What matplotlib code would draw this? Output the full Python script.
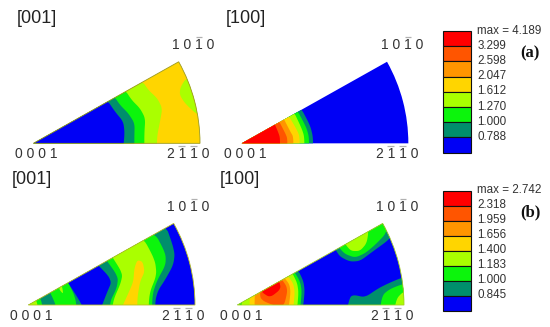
import numpy as np
import matplotlib
matplotlib.use('Agg')
import matplotlib.pyplot as plt
from matplotlib.patches import Polygon, Wedge, Rectangle

plt.rcParams['font.family'] = ['Liberation Sans', 'DejaVu Sans']

# contour level colours, lowest to highest
level_colors = ['#0000f5', '#008f6c', '#0cf50c', '#aaff00', '#ffd500', '#ff9500', '#ff5500', '#ff0000']

labels_a = ['max = 4.189', '3.299', '2.598', '2.047', '1.612', '1.270', '1.000', '0.788']
labels_b = ['max = 2.742', '2.318', '1.959', '1.656', '1.400', '1.183', '1.000', '0.845']

# background level of each sector
base_a_001 = 4
base_a_100 = 0
base_b_001 = 0
base_b_100 = 0

# everything below in 3x pixels of each panel
# (level index, outline), painted in order and clipped to the sector
bands_a_001 = [
    (3, [(425, 240), (445, 270), (472, 295), (487, 325), (480, 365), (471, 410), (471, 460), (60, 460), (60, 230)]),
    (3, [(560, 232), (541, 262), (539, 285), (555, 310), (592, 345), (640, 350), (640, 230)]),
    (2, [(372, 265), (395, 300), (420, 325), (436, 355), (433, 400), (433, 460), (60, 460), (60, 250)]),
    (1, [(340, 285), (360, 315), (385, 340), (404, 370), (403, 410), (403, 460), (60, 460), (60, 270)]),
    (0, [(318, 295), (345, 335), (370, 365), (374, 400), (368, 460), (60, 460), (60, 280)]),
]
bands_a_100 = [
    (1, [(220, 310), (255, 375), (264, 410), (264, 460), (0, 460), (0, 300)]),
    (2, [(208, 315), (243, 380), (252, 410), (252, 460), (0, 460), (0, 300)]),
    (3, [(200, 322), (230, 385), (238, 410), (238, 460), (0, 460), (0, 300)]),
    (4, [(182, 332), (216, 390), (224, 410), (224, 460), (0, 460), (0, 300)]),
    (5, [(168, 340), (196, 395), (205, 410), (205, 460), (0, 460), (0, 300)]),
    (6, [(155, 350), (181, 400), (187, 415), (187, 460), (0, 460), (0, 300)]),
    (7, [(142, 355), (163, 405), (165, 418), (165, 460), (0, 460), (0, 300)]),
]
bands_b_001 = [
    (1, [(490, 160), (525, 260), (520, 300), (495, 345), (475, 375), (466, 405), (466, 450), (40, 450), (40, 300)]),
    (2, [(308, 270), (355, 335), (350, 370), (330, 410), (330, 450), (455, 450), (458, 385), (472, 345), (497, 300), (497, 265), (460, 195), (300, 240)]),
    (3, [(328, 262), (368, 325), (362, 355), (340, 405), (335, 450), (445, 450), (448, 385), (470, 330), (465, 285), (425, 210), (320, 240)]),
    (4, [(412, 285), (428, 290), (434, 320), (420, 350), (412, 400), (412, 450), (355, 450), (385, 385), (400, 350), (403, 310)]),
    (2, [(142, 365), (168, 420), (168, 450), (232, 450), (226, 395), (195, 335), (150, 340)]),
    (0, [(196, 340), (250, 425), (250, 450), (295, 450), (320, 385), (337, 345), (280, 285), (190, 320)]),
    (3, [(176, 371), (190, 388), (186, 362)]),
    (2, [(70, 450), (128, 450), (125, 405), (105, 385), (70, 400)]),
    (3, [(70, 450), (115, 450), (110, 400), (70, 400)]),
]
bands_b_100 = [
    (1, [(0, 450), (232, 450), (241, 360), (212, 300), (0, 400)]),
    (2, [(20, 450), (224, 450), (232, 362), (200, 305), (20, 400)]),
    (3, [(50, 450), (215, 450), (222, 365), (195, 310), (50, 390)]),
    (4, [(74, 450), (203, 450), (211, 365), (182, 322), (74, 380)]),
    (5, [(88, 450), (188, 450), (199, 365), (170, 328), (90, 365)]),
    (6, [(106, 405), (160, 426), (178, 420), (189, 370), (165, 335), (105, 370)]),
    (7, [(108, 380), (135, 398), (168, 372), (162, 345), (115, 360)]),
    (1, [(330, 252), (345, 275), (375, 290), (405, 288), (440, 262), (495, 222), (520, 180), (468, 130), (320, 220)]),
    (2, [(342, 248), (360, 267), (390, 278), (420, 265), (450, 240), (484, 205), (490, 160), (335, 215)]),
    (3, [(360, 237), (378, 258), (405, 258), (425, 235), (431, 197), (415, 175), (355, 210)]),
    (1, [(362, 450), (375, 395), (388, 390), (420, 397), (460, 370), (490, 355), (530, 338), (570, 330), (570, 450)]),
    (2, [(462, 450), (472, 390), (495, 372), (530, 358), (570, 352), (570, 450)]),
    (3, [(505, 450), (515, 400), (535, 380), (570, 372), (570, 450)]),
]


def smooth(pts, n=3):
    # corner cutting, the contours in the original are rounded
    pts = np.array(pts, dtype=float)
    for _ in range(n):
        nxt = np.roll(pts, -1, axis=0)
        pts = np.column_stack([0.8 * pts + 0.2 * nxt, 0.2 * pts + 0.8 * nxt]).reshape(-1, 2)
    return pts


def overbar_label(ax, x, y, text, bars):
    ax.text(x, y, text, fontsize=10, color='#333333', ha='left', va='baseline')
    for b in bars:
        ax.plot([x + 36 * b - 1, x + 36 * b + 18], [y - 36, y - 36], color='#b0b0b0', lw=0.9, solid_capstyle='butt')


def draw_sector(ax, ox, oy, origin, base, bands, edge, title, title_xy, corners):
    cx, cy = origin
    ax.add_patch(Wedge((cx + ox, cy + oy), 500, -29.3, 0, fc=level_colors[base], ec='none'))
    clip = Wedge((cx + ox, cy + oy), 500, -29.3, 0, transform=ax.transData)
    for level, pts in bands:
        p = Polygon(smooth(pts) + [ox, oy], closed=True, fc=level_colors[level], ec='none')
        ax.add_patch(p)
        p.set_clip_path(clip)
    if edge:
        ax.add_patch(Wedge((cx + ox, cy + oy), 500, -29.3, 0, fc='none', ec=edge, lw=0.6))
    ax.text(title_xy[0] + ox, title_xy[1] + oy, title, fontsize=13, color='#222222', ha='left', va='baseline')
    for x, y, text, bars in corners:
        overbar_label(ax, x + ox, y + oy, text, bars)


def draw_legend(ax, ox, oy, top, step, labels, label_top, tag, tag_y):
    for i, lab in enumerate(labels):
        y = top + i * step
        ax.add_patch(Rectangle((38 + ox, y + oy), 86, step, fc=level_colors[7 - i], ec='#111111', lw=0.8))
        ax.text(142 + ox, label_top + i * step + oy, lab, fontsize=8.4, color='#333333', ha='left', va='center')
    ax.text(270 + ox, tag_y + oy, tag, fontsize=12, fontweight='bold', family='Liberation Serif',
            color='#111111', ha='left', va='center')


fig = plt.figure(figsize=(5.5, 3.27), dpi=100)
ax = fig.add_axes([0, 0, 1, 1])
ax.set_xlim(0, 1650)
ax.set_ylim(981, 0)
ax.axis('off')

draw_sector(ax, 0, 0, (100, 430), base_a_001, bands_a_001, '#9a9a20', '[001]', (50, 68),
            [(517, 147, '1 0 1 0', [2]), (45, 474, '0 0 0 1', []), (500, 474, '2 1 1 0', [1, 2])])
draw_sector(ax, 675, 0, (50, 430), base_a_100, bands_a_100, None, '[100]', (2, 68),
            [(468, 147, '1 0 1 0', [2]), (-2, 474, '0 0 0 1', []), (452, 474, '2 1 1 0', [1, 2])])
draw_sector(ax, 0, 495, (85, 420), base_b_001, bands_b_001, '#b8c020', '[001]', (36, 58),
            [(502, 138, '1 0 1 0', [2]), (30, 464, '0 0 0 1', []), (485, 464, '2 1 1 0', [1, 2])])
draw_sector(ax, 675, 495, (37, 420), base_b_100, bands_b_100, '#a8d020', '[100]', (-15, 58),
            [(453, 138, '1 0 1 0', [2]), (-15, 464, '0 0 0 1', []), (437, 464, '2 1 1 0', [1, 2])])

draw_legend(ax, 1290, 60, 33, 45.6, labels_a, 32, '(a)', 100)
draw_legend(ax, 1290, 510, 62, 45, labels_b, 60, '(b)', 128)

fig.savefig('out.png', dpi=100)
